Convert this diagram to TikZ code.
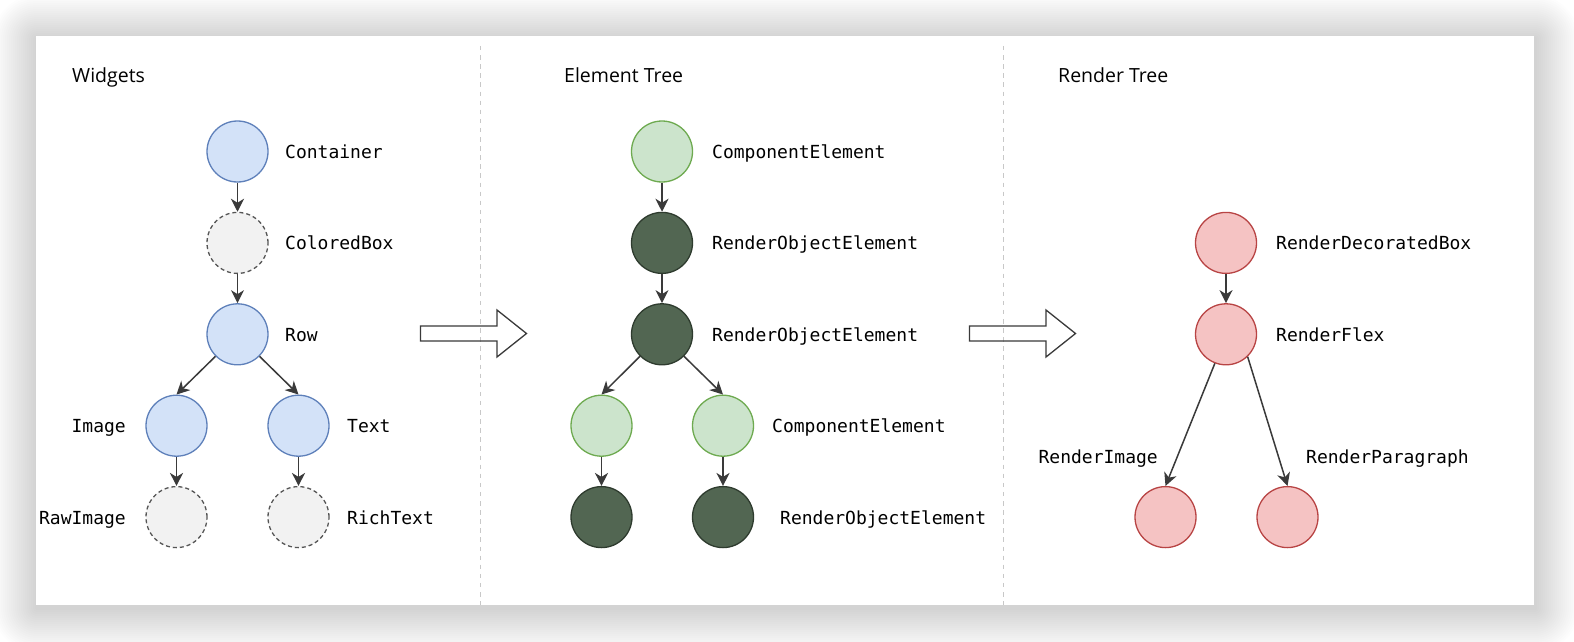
\documentclass[tikz,border=0pt]{standalone}
\usepackage{fontspec}
\setmainfont{Open Sans}
\setmonofont{DejaVu Sans Mono}
\usetikzlibrary{arrows.meta}
\definecolor{bluefill}{HTML}{D3E2F8}
\definecolor{bluedraw}{HTML}{5E80BA}
\definecolor{grayfill}{HTML}{F2F2F2}
\definecolor{graydraw}{HTML}{555555}
\definecolor{lgfill}{HTML}{CCE4CC}
\definecolor{lgdraw}{HTML}{6EAA50}
\definecolor{dgfill}{HTML}{526652}
\definecolor{dgdraw}{HTML}{2E3B2E}
\definecolor{redfill}{HTML}{F5C3C3}
\definecolor{reddraw}{HTML}{B84444}
\definecolor{linec}{HTML}{3A3A3A}
\definecolor{sepc}{HTML}{C8C8C8}
\tikzset{
  nd/.style={circle,minimum size=61pt,inner sep=0pt,line width=1.3pt},
  bluen/.style={nd,fill=bluefill,draw=bluedraw},
  grayn/.style={nd,fill=grayfill,draw=graydraw,dash pattern=on 4pt off 3pt},
  lgn/.style={nd,fill=lgfill,draw=lgdraw},
  dgn/.style={nd,fill=dgfill,draw=dgdraw},
  redn/.style={nd,fill=redfill,draw=reddraw},
  lblr/.style={anchor=base west,inner sep=0pt,font=\ttfamily\fontsize{18}{22}\selectfont},
  lbll/.style={anchor=base east,inner sep=0pt,font=\ttfamily\fontsize{18}{22}\selectfont},
  ttl/.style={anchor=base west,inner sep=0pt,font=\fontsize{19.5}{24}\selectfont},
  conn/.style={draw=linec,line width=1.5pt,-{Stealth[length=13pt,width=13pt,inset=4pt]}},
  bigarrow/.style={draw=linec,line width=1.3pt,line join=miter},
  sep/.style={draw=sepc,line width=1.2pt,dash pattern=on 4.5pt off 4.6pt}
}
\begin{document}
\begin{tikzpicture}[x=1pt,y=-1pt]
\useasboundingbox (0,0) rectangle (1574,642);
\fill[white] (0,0) rectangle (1574,642);
% soft shadow
\foreach \i [evaluate=\i as \d using \i*2] in {1,...,22} {
  \fill[black,opacity=0.0065,rounded corners=\d pt] (37-\d,39-\d) rectangle (1535+\d,608+\d);
}
% panel
\fill[white] (36,36) rectangle (1534,605);
% separators
\coordinate (s1a) at (480.5,46); \coordinate (s1b) at (480.5,605);
\coordinate (s2a) at (1003.5,46); \coordinate (s2b) at (1003.5,605);
\draw[sep] (s1a) -- (s1b);
\draw[sep] (s2a) -- (s2b);
% titles
\node[ttl] (t1) at (72,82) {Widgets};
\node[ttl] (t2) at (564,82) {Element Tree};
\node[ttl] (t3) at (1058,82) {Render Tree};
% widgets
\node[bluen] (w1) at (237.5,151.5) {};
\node[grayn] (w2) at (237.5,242.9) {};
\node[bluen] (w3) at (237.5,334.3) {};
\node[bluen] (w4) at (176.5,425.7) {};
\node[bluen] (w5) at (298.5,425.7) {};
\node[grayn] (w6) at (176.5,517.1) {};
\node[grayn] (w7) at (298.5,517.1) {};
\node[lblr] (lw1) at (285,158.5) {Container};
\node[lblr] (lw2) at (285,249.9) {ColoredBox};
\node[lblr] (lw3) at (285,341.3) {Row};
\node[lbll] (lw4) at (126,432.7) {Image};
\node[lblr] (lw5) at (347,432.7) {Text};
\node[lbll] (lw6) at (126,524.1) {RawImage};
\node[lblr] (lw7) at (347,524.1) {RichText};
\draw[conn] (w1.south) -- (w2.north);
\draw[conn] (w2.south) -- (w3.north);
\draw[conn] (w3.225) -- (w4.north);
\draw[conn] (w3.315) -- (w5.north);
\draw[conn] (w4.south) -- (w6.north);
\draw[conn] (w5.south) -- (w7.north);
% element tree
\node[lgn] (e1) at (662,151.5) {};
\node[dgn] (e2) at (662,242.9) {};
\node[dgn] (e3) at (662,334.3) {};
\node[lgn] (e4) at (601.5,425.7) {};
\node[lgn] (e5) at (723,425.7) {};
\node[dgn] (e6) at (601.5,517.1) {};
\node[dgn] (e7) at (723,517.1) {};
\node[lblr] (le1) at (712,158.5) {ComponentElement};
\node[lblr] (le2) at (712,249.9) {RenderObjectElement};
\node[lblr] (le3) at (712,341.3) {RenderObjectElement};
\node[lblr] (le5) at (772,432.7) {ComponentElement};
\node[lblr] (le7) at (780,524.1) {RenderObjectElement};
\draw[conn] (e1.south) -- (e2.north);
\draw[conn] (e2.south) -- (e3.north);
\draw[conn] (e3.225) -- (e4.north);
\draw[conn] (e3.315) -- (e5.north);
\draw[conn] (e4.south) -- (e6.north);
\draw[conn] (e5.south) -- (e7.north);
% render tree
\node[redn] (r1) at (1226,242.9) {};
\node[redn] (r2) at (1226,334.3) {};
\node[redn] (r3) at (1165.5,517.1) {};
\node[redn] (r4) at (1287.5,517.1) {};
\node[lblr] (lr1) at (1276,249.9) {RenderDecoratedBox};
\node[lblr] (lr2) at (1276,341.3) {RenderFlex};
\node[lbll] (lr3) at (1158,463.5) {RenderImage};
\node[lblr] (lr4) at (1306,463.5) {RenderParagraph};
\draw[conn] (r1.south) -- (r2.north);
\draw[conn] (r2.249) -- (r3.north);
\draw[conn] (r2.314) -- (r4.north);
% big hollow arrows
\draw[bigarrow] (420.5,326) -- (497,326) -- (497,310) -- (526.5,333.5) -- (497,357) -- (497,341) -- (420.5,341) -- cycle;
\draw[bigarrow] (969.5,326) -- (1046,326) -- (1046,310) -- (1075.5,333.5) -- (1046,357) -- (1046,341) -- (969.5,341) -- cycle;
\end{tikzpicture}
\end{document}
